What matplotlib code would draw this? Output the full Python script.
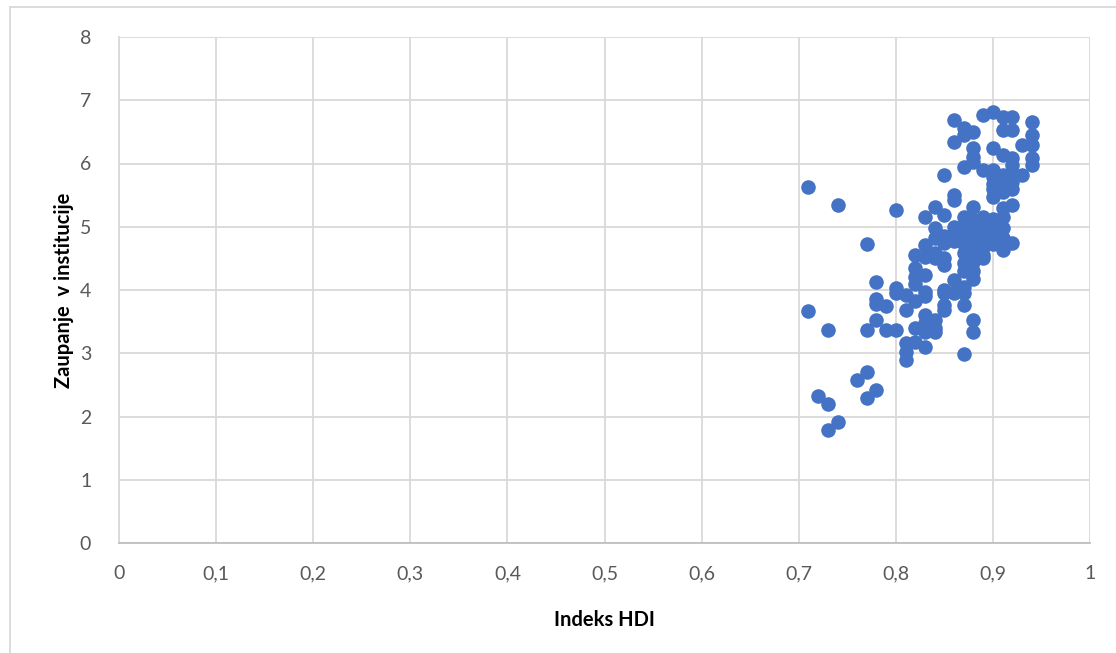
import matplotlib
matplotlib.use("Agg")
import matplotlib.pyplot as plt
from matplotlib.lines import Line2D

# HDI value -> trust values, one list per HDI column
columns = {
    0.71: [5.63, 3.67],
    0.72: [2.33],
    0.73: [3.36, 2.20, 1.79],
    0.74: [5.35, 1.92],
    0.76: [2.58],
    0.77: [4.72, 3.36, 2.71, 2.29],
    0.78: [4.12, 3.85, 3.78, 3.52, 2.42],
    0.79: [3.74, 3.37],
    0.80: [5.26, 4.03, 3.95, 3.37],
    0.81: [3.92, 3.68, 3.16, 3.02, 2.89],
    0.82: [4.55, 4.35, 4.21, 4.10, 3.82, 3.40, 3.18],
    0.83: [5.16, 4.71, 4.52, 4.24, 3.97, 3.90, 3.60, 3.48, 3.34, 3.10],
    0.84: [5.32, 4.98, 4.82, 4.58, 4.50, 3.53, 3.40, 3.34],
    0.85: [5.82, 5.19, 4.85, 4.75, 4.50, 4.40, 4.00, 3.95, 3.76, 3.68],
    0.86: [6.69, 6.34, 5.50, 5.42, 5.00, 4.85, 4.78, 4.16, 3.95],
    0.87: [6.56, 6.45, 5.95, 5.15, 5.02, 4.88, 4.72, 4.58, 4.42, 4.30, 4.05, 3.95, 3.76, 2.99],
    0.88: [6.50, 6.24, 6.11, 6.02, 5.32, 5.10, 4.95, 4.82, 4.68, 4.55, 4.45, 4.30, 4.18, 3.53, 3.34],
    0.89: [6.76, 5.90, 5.15, 5.05, 4.92, 4.80, 4.68, 4.55, 4.50],
    0.90: [6.82, 6.24, 5.90, 5.78, 5.68, 5.60, 5.47, 5.12, 5.00, 4.90, 4.80, 4.72],
    0.91: [6.74, 6.53, 6.13, 5.82, 5.68, 5.55, 5.30, 5.15, 4.98, 4.82, 4.63],
    0.92: [6.74, 6.53, 6.08, 5.98, 5.85, 5.70, 5.60, 5.34, 4.74],
    0.93: [6.29, 5.82],
    0.94: [6.66, 6.45, 6.29, 6.08, 5.98],
}
hdi = [x for x, ys in columns.items() for _ in ys]
trust = [y for ys in columns.values() for y in ys]

x_ticks = [0, 0.1, 0.2, 0.3, 0.4, 0.5, 0.6, 0.7, 0.8, 0.9, 1]
x_labels = ["0", "0,1", "0,2", "0,3", "0,4", "0,5", "0,6", "0,7", "0,8", "0,9", "1"]
y_ticks = [0, 1, 2, 3, 4, 5, 6, 7, 8]

plt.rcParams["font.family"] = ["Lato", "DejaVu Sans"]

fig = plt.figure(figsize=(11.16, 6.53), dpi=100)
ax = fig.add_axes([119 / 1116, 1 - 543 / 653, 971 / 1116, 506 / 653])

ax.scatter(hdi, trust, s=110, color="#4472C4", zorder=3, linewidths=0)

ax.set_xlim(0, 1)
ax.set_ylim(0, 8)
ax.set_xticks(x_ticks)
ax.set_xticklabels(x_labels)
ax.set_yticks(y_ticks)
ax.grid(True, color="#D9D9D9", linewidth=1.3)
ax.set_axisbelow(True)
for s in ["top", "right"]:
    ax.spines[s].set_visible(False)
ax.spines["left"].set_color("#D9D9D9")
ax.spines["bottom"].set_color("#BFBFBF")
ax.spines["left"].set_linewidth(1.3)
ax.spines["bottom"].set_linewidth(1.3)
ax.tick_params(length=0, labelsize=14, colors="#595959")
ax.tick_params(axis="x", pad=16)
ax.tick_params(axis="y", pad=20)

ax.set_xlabel("Indeks HDI", fontsize=14.5, fontweight="bold", labelpad=20)
ax.set_ylabel("Zaupanje  v institucije", fontsize=14.5, fontweight="bold", labelpad=4)

# outer chart frame (left and top edges visible)
fig.add_artist(Line2D([10 / 1116, 10 / 1116], [0, 1 - 7 / 653], color="#D9D9D9", lw=1.3))
fig.add_artist(Line2D([10 / 1116, 1], [1 - 7 / 653, 1 - 7 / 653], color="#D9D9D9", lw=1.3))

fig.savefig("out.png", dpi=100)
